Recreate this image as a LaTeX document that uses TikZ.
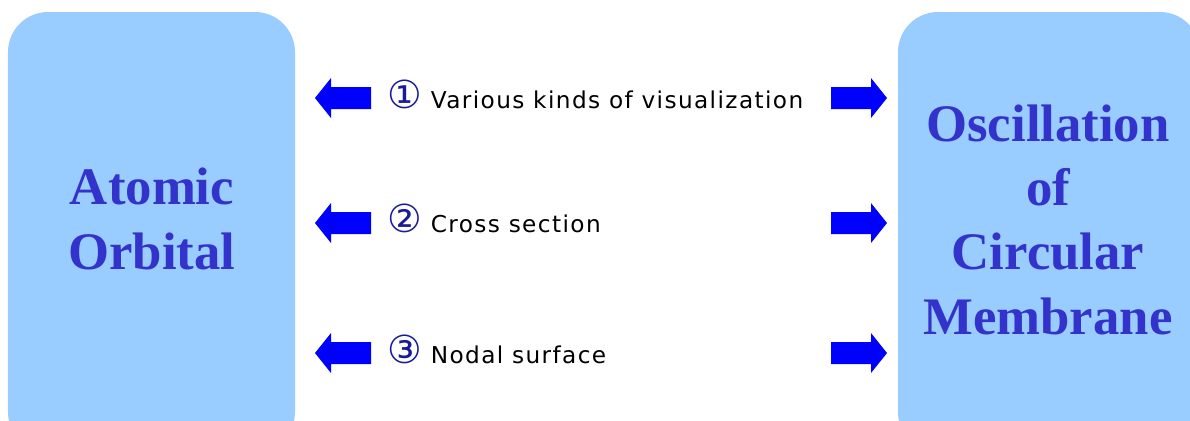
\documentclass[tikz,border=0pt]{standalone}
\usepackage{fontspec}
\setmainfont{Liberation Serif}
\newfontfamily\labelfont[LetterSpace=6]{DejaVu Sans}
\newfontfamily\digitfont{DejaVu Sans}

\definecolor{boxblue}{HTML}{99CCFF}
\definecolor{titleblue}{HTML}{3333CC}
\definecolor{arrowblue}{HTML}{0000FF}
\definecolor{digitblue}{HTML}{1A1A99}

\tikzset{
  bigbox/.style={fill=boxblue, rounded corners=4mm, inner sep=0pt},
  title/.style={font=\bfseries\fontsize{15}{18.3}\selectfont, text=titleblue,
    align=center, inner sep=0pt},
  lbl/.style={font=\labelfont\fontsize{6.6}{8}\selectfont, inner sep=0pt,
    anchor=base west},
  lblock/.pic={\fill[arrowblue] (0,0) -- (16,-20) -- (16,-11) -- (56,-11)
    -- (56,11) -- (16,11) -- (16,20) -- cycle;},
  rblock/.pic={\fill[arrowblue] (0,0) -- (-16,-20) -- (-16,-11) -- (-56,-11)
    -- (-56,11) -- (-16,11) -- (-16,20) -- cycle;}
}
\newcommand{\cnum}[1]{{\digitfont\fontsize{11}{11}\selectfont\textcolor{digitblue}{#1}}\hspace{2.4pt}}

\begin{document}
\begin{tikzpicture}[x=0.01cm, y=-0.01cm]
  \useasboundingbox (0,0) rectangle (1190,420);
  \clip (0,0) rectangle (1190,420);

  % the two blocks
  \node[bigbox, minimum width=287*0.01cm, minimum height=440*0.01cm]
    (ao) at (151.5,232) {};
  \node[bigbox, minimum width=302*0.01cm, minimum height=440*0.01cm]
    (cm) at (1049,232) {};
  \node[title] (aotext) at (152,219) {Atomic\\Orbital};
  \node[title] (cmtext) at (1048,219.5) {Oscillation\\of\\Circular\\Membrane};

  % arrows
  \pic (la1) at (315,98) {lblock};  \pic (ra1) at (887,98) {rblock};
  \pic (la2) at (315,223) {lblock}; \pic (ra2) at (887,223) {rblock};
  \pic (la3) at (315,353) {lblock}; \pic (ra3) at (887,353) {rblock};

  % labels
  \node[lbl] (l1) at (387,108) {\cnum{①}Various kinds of visualization};
  \node[lbl] (l2) at (387,232) {\cnum{②}Cross section};
  \node[lbl] (l3) at (387,363) {\cnum{③}Nodal surface};
\end{tikzpicture}
\end{document}
